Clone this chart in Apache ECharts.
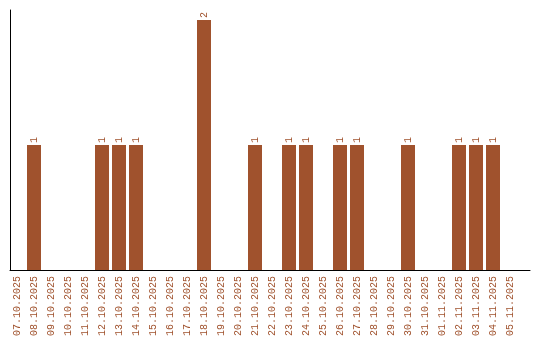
<!DOCTYPE html>
<html><head><meta charset="utf-8">
<script src="https://cdn.jsdelivr.net/npm/echarts@6/dist/echarts.min.js"></script>
<style>html,body{margin:0;padding:0;background:#fff}#c{width:540px;height:340px}</style>
</head><body><div id="c"></div>
<script>
const categories = ["07.10.2025","08.10.2025","09.10.2025","10.10.2025","11.10.2025","12.10.2025","13.10.2025","14.10.2025","15.10.2025","16.10.2025","17.10.2025","18.10.2025","19.10.2025","20.10.2025","21.10.2025","22.10.2025","23.10.2025","24.10.2025","25.10.2025","26.10.2025","27.10.2025","28.10.2025","29.10.2025","30.10.2025","31.10.2025","01.11.2025","02.11.2025","03.11.2025","04.11.2025","05.11.2025"];
const counts = [0,1,0,0,0,1,1,1,0,0,0,2,0,0,1,0,1,1,0,1,1,0,0,1,0,0,1,1,1,0];
const color = '#A0522D';
const font = 'Liberation Mono';
const chart = echarts.init(document.getElementById('c'));
chart.setOption({
  animation: false,
  grid: [
    {left: 8.5, width: 510, top: 20, bottom: 70, containLabel: false},
    {left: 10, right: 10, top: 10, bottom: 70, containLabel: false}
  ],
  xAxis: [
    {type: 'category', gridIndex: 0, data: categories,
     axisLine: {show: false}, axisTick: {show: false}, splitLine: {show: false},
     axisLabel: {rotate: 90, interval: 0, color: color, fontFamily: font, fontSize: 10, margin: 6}},
    {type: 'value', gridIndex: 1, min: 0, max: 1, show: true,
     axisLine: {show: true, onZero: false, lineStyle: {color: '#000', width: 1}},
     axisTick: {show: false}, axisLabel: {show: false}, splitLine: {show: false}}
  ],
  yAxis: [
    {type: 'value', gridIndex: 0, min: 0, max: 2, show: false, splitLine: {show: false}},
    {type: 'value', gridIndex: 1, min: 0, max: 1, show: true,
     axisLine: {show: true, onZero: false, lineStyle: {color: '#000', width: 1}},
     axisTick: {show: false}, axisLabel: {show: false}, splitLine: {show: false}}
  ],
  series: [{
    type: 'bar', xAxisIndex: 0, yAxisIndex: 0,
    data: counts.map(v => v === 0 ? null : v),
    barWidth: 14,
    itemStyle: {color: color},
    label: {show: true, position: 'top', rotate: 90, align: 'left', verticalAlign: 'middle',
            distance: 2, color: color, fontFamily: font, fontSize: 10}
  }]
});
</script></body></html>
